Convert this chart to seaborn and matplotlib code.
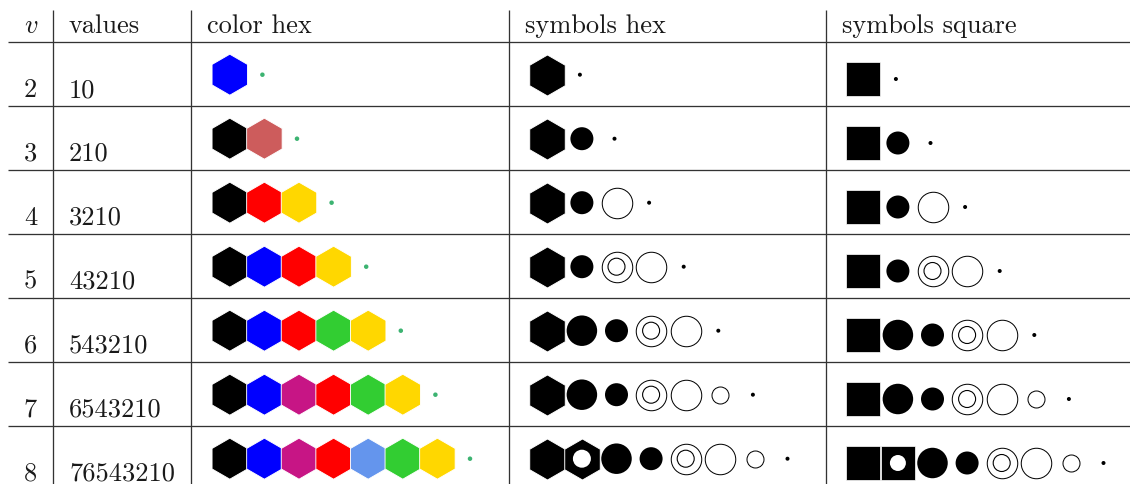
"""
plot.py

Table of symbol encodings for digit strings: one row per v,
with colour-hex, symbol-hex and symbol-square glyph runs.
"""

import pandas as pd
import matplotlib.pyplot as plt
import seaborn as sns

sns.set_theme(style="white")
plt.rcParams["font.family"] = ["cmr10", "DejaVu Serif"]

# ---- data ----
v_values = [2, 3, 4, 5, 6, 7, 8]
value_strings = ["10", "210", "3210", "43210", "543210", "6543210", "76543210"]
headers = ["values", "color hex", "symbols hex", "symbols square"]

hex_colors = [
    ["blue"],
    ["black", "indianred"],
    ["black", "red", "gold"],
    ["black", "blue", "red", "gold"],
    ["black", "blue", "red", "limegreen", "gold"],
    ["black", "blue", "mediumvioletred", "red", "limegreen", "gold"],
    ["black", "blue", "mediumvioletred", "red", "cornflowerblue", "limegreen", "gold"],
]
zero_color = "mediumseagreen"

symbol_rows = [
    ["shape", "dot"],
    ["shape", "small", "dot"],
    ["shape", "small", "open", "dot"],
    ["shape", "small", "ring", "open", "dot"],
    ["shape", "big", "small", "ring", "open", "dot"],
    ["shape", "big", "small", "ring", "open", "open_small", "dot"],
    ["shape", "holed", "big", "small", "ring", "open", "open_small", "dot"],
]

# ---- layout (pixels, figure drawn 1:1 at dpi 100) ----
W, H = 1130, 485
PT = 0.72                     # points per pixel at dpi 100
header_line = 43
row_h = 64
step = 34.6
dot_pull = 2.0
col_lines = [53, 191, 509, 826]
col_start = {"color": 229.8, "hex": 547.3, "square": 863.3}
col_dy = {"color": 0.7, "hex": 0.7, "square": 5.0}
text_color = "#1a1a1a"
rule_color = "#333333"


def row_center(r):
    return header_line + row_h * r + row_h / 2


records = []
for r, colors in enumerate(hex_colors):
    y = row_center(r) + col_dy["color"]
    for i, c in enumerate(colors):
        records.append(dict(x=col_start["color"] + i * step, y=y, kind="chex", color=c))
    records.append(dict(x=col_start["color"] + len(colors) * step - dot_pull, y=y,
                        kind="gdot", color=zero_color))

for col in ["hex", "square"]:
    for r, kinds in enumerate(symbol_rows):
        y = row_center(r) + col_dy[col]
        for i, k in enumerate(kinds):
            x = col_start[col] + i * step - (dot_pull if k == "dot" else 0)
            if k == "shape":
                k = col
            elif k == "holed":
                records.append(dict(x=x, y=y, kind=col, color="black"))
                k = "hole_" + col
            elif k == "ring":
                records.append(dict(x=x, y=y, kind="open", color="black"))
                k = "open_inner"
            records.append(dict(x=x, y=y, kind=k, color="black"))

glyphs = pd.DataFrame(records)

# kind -> marker, diameter(px), face, edge, edge width(px), zorder
styles = {
    "chex": ("h", 41, None, "white", 0.9, 3),
    "gdot": ("o", 4.5, None, "none", 0, 3),
    "hex": ("h", 41, "black", "white", 0.9, 3),
    "square": ("s", 34, "black", "white", 0.7, 3),
    "big": ("o", 30.5, "black", "none", 0, 3),
    "small": ("o", 23, "black", "none", 0, 3),
    "open": ("o", 30.5, "white", "black", 1.0, 3),
    "open_inner": ("o", 17, "none", "black", 1.1, 4),
    "open_small": ("o", 17, "white", "black", 1.0, 3),
    "dot": ("o", 4, "black", "none", 0, 3),
    "hole_hex": ("o", 18, "white", "none", 0, 4),
    "hole_square": ("o", 16, "white", "none", 0, 4),
}

fig = plt.figure(figsize=(W / 100, H / 100), dpi=100)
ax = fig.add_axes([0, 0, 1, 1])

for kind, (marker, diam, face, edge, lw, z) in styles.items():
    sub = glyphs[glyphs["kind"] == kind]
    if sub.empty:
        continue
    size = (diam * PT) ** 2
    if face is None:
        sns.scatterplot(data=sub, x="x", y="y", hue="color",
                        palette={c: c for c in sub["color"].unique()},
                        marker=marker, s=size, edgecolor=edge, linewidth=lw * PT,
                        legend=False, zorder=z, ax=ax)
    else:
        sns.scatterplot(data=sub, x="x", y="y", marker=marker, s=size,
                        color=face, edgecolor=edge, linewidth=lw * PT,
                        legend=False, zorder=z, ax=ax)

# table rules
rule_ys = [header_line + row_h * k for k in range(len(v_values))]
ax.hlines(rule_ys, 8, W, color=rule_color, linewidth=1.3 * PT, zorder=1)
ax.vlines(col_lines, 11, H, color=rule_color, linewidth=1.3 * PT, zorder=1)

# text
fs = 19
ax.text(30.5, 33, "v", family=["cmmi10", "DejaVu Serif"], fontsize=fs,
        ha="center", va="baseline", color=text_color)
for x, label in zip([69, 207, 525, 842], headers):
    ax.text(x, 33, label, fontsize=fs, ha="left", va="baseline", color=text_color)
for r, (v, s) in enumerate(zip(v_values, value_strings)):
    base = header_line + row_h * (r + 1) - 10
    ax.text(30.5, base, str(v), fontsize=fs, ha="center", va="baseline", color=text_color)
    ax.text(69, base, s, fontsize=fs, ha="left", va="baseline", color=text_color)

ax.set_xlim(0, W)
ax.set_ylim(H, 0)
ax.set_xlabel("")
ax.set_ylabel("")
ax.axis("off")

fig.savefig("out.png", dpi=100)
